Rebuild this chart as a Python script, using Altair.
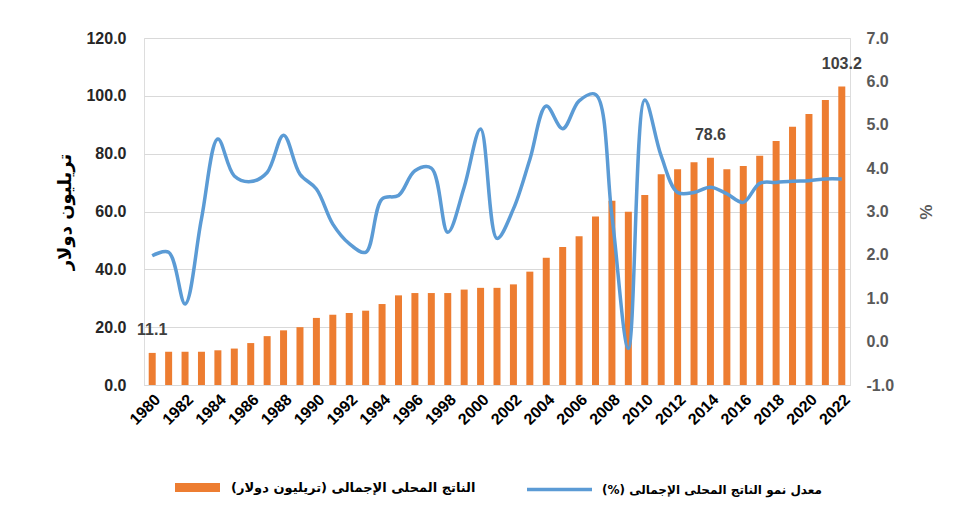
import altair as alt
import pandas as pd

years = list(range(1980, 2023))
gdp = [11.1, 11.5, 11.5, 11.5, 12.0, 12.6, 14.5, 16.9, 18.9, 20.0,
       23.2, 24.3, 24.9, 25.7, 28.0, 31.0, 31.8, 31.8, 31.8, 33.0,
       33.6, 33.6, 34.8, 39.2, 44.0, 47.7, 51.4, 58.3, 63.7, 59.9,
       65.7, 72.9, 74.6, 77.0, 78.6, 74.6, 75.7, 79.3, 84.4, 89.3,
       93.7, 98.6, 103.2]
growth = [1.98, 2.06, 0.87, 2.83, 4.67, 3.82, 3.69, 3.90, 4.76, 3.86,
          3.52, 2.71, 2.26, 2.06, 3.29, 3.37, 3.94, 4.00, 2.52, 3.56,
          4.90, 2.38, 3.06, 4.20, 5.43, 4.91, 5.55, 5.70, 2.90, -0.16,
          5.57, 4.28, 3.44, 3.44, 3.56, 3.41, 3.21, 3.65, 3.67, 3.70,
          3.71, 3.75, 3.75]
label_years = [1980, 2014, 2022]
tick_years = list(range(1980, 2023, 2))
left_ticks = [0, 20, 40, 60, 80, 100, 120]
right_ticks = [-1, 0, 1, 2, 3, 4, 5, 6, 7]

RLM = "\u200f"
bar_name = "الناتج المحلى الإجمالى  (تريليون دولار)" + RLM
line_name = "معدل نمو الناتج المحلى الإجمالى (%)" + RLM
left_title = "تريليون دولار"

df = pd.DataFrame({"year": years, "gdp": gdp, "growth": growth})
df["s1"] = bar_name
df["s2"] = line_name

NUM_FONT = "Liberation Sans"
AR_FONT = "DejaVu Sans"

x_enc = alt.X("year:O", title=None,
              scale=alt.Scale(paddingInner=0.1, paddingOuter=0.05),
              axis=alt.Axis(values=tick_years, labelAngle=-45, ticks=False,
                            domainColor="#D9D9D9", labelFont=NUM_FONT,
                            labelFontSize=16, labelFontWeight="bold",
                            labelColor="#000000", labelPadding=6))

base = alt.Chart(df)

bars = base.mark_bar(size=7).encode(
    x=x_enc,
    y=alt.Y("gdp:Q", scale=alt.Scale(domain=[0, 120], nice=False),
            axis=alt.Axis(values=left_ticks, format=".1f", ticks=False,
                          domain=False, grid=True, gridColor="#D9D9D9",
                          labelFont=NUM_FONT, labelFontSize=16,
                          labelFontWeight="bold", labelColor="#262626",
                          labelPadding=18, title=left_title,
                          titleFont=AR_FONT, titleFontSize=18,
                          titleFontWeight="bold", titleColor="#000000",
                          titlePadding=11)),
    color=alt.Color("s1:N", scale=alt.Scale(domain=[bar_name], range=["#ED7D31"]),
                    legend=alt.Legend(orient="none", legendX=31, legendY=427,
                                      title=None,
                                      symbolType="M-1,-0.2L1,-0.2L1,0.2L-1,0.2Z",
                                      symbolSize=2025, symbolStrokeWidth=0,
                                      labelFont=AR_FONT, labelFontSize=13,
                                      labelFontWeight="bold", labelColor="#000000",
                                      labelOffset=11, labelLimit=400)),
)

labels = base.transform_filter(
    alt.FieldOneOfPredicate(field="year", oneOf=label_years)
).mark_text(dy=-23, font=NUM_FONT, fontSize=16, fontWeight="bold",
            color="#404040").encode(
    x=x_enc,
    y=alt.Y("gdp:Q"),
    text=alt.Text("gdp:Q", format=".1f"),
)

line = base.mark_line(interpolate="catmull-rom", strokeWidth=3.5).encode(
    x=x_enc,
    y=alt.Y("growth:Q", scale=alt.Scale(domain=[-1, 7], nice=False),
            axis=alt.Axis(orient="right", values=right_ticks,
                          labelExpr="datum.value < 0 ? '-' + format(-datum.value, '.1f') : format(datum.value, '.1f')",
                          ticks=False, domain=False, grid=False,
                          labelFont=NUM_FONT, labelFontSize=16,
                          labelFontWeight="bold", labelColor="#595959",
                          labelPadding=16, title="%", titleFont=NUM_FONT,
                          titleFontSize=17, titleFontWeight="bold",
                          titleColor="#595959", titlePadding=22)),
    stroke=alt.Stroke("s2:N", scale=alt.Scale(domain=[line_name], range=["#5B9BD5"]),
                      legend=alt.Legend(orient="none", legendX=381, legendY=417,
                                        title=None, symbolType="stroke",
                                        symbolSize=4225, symbolStrokeWidth=3.5,
                                        labelFont=AR_FONT, labelFontSize=12,
                                        labelFontWeight="bold", labelColor="#000000",
                                        labelOffset=8, labelLimit=400)),
)

chart = alt.layer(alt.layer(bars, labels), line).resolve_scale(
    y="independent", color="independent", stroke="independent"
).properties(
    width=706, height=347,
    autosize=alt.AutoSizeParams(type="none"),
    padding={"left": 136, "top": 30, "right": 100, "bottom": 120},
).configure_view(stroke=None).configure(background="white")

chart.save("out.html", embed_options={"renderer": "svg", "actions": False})
